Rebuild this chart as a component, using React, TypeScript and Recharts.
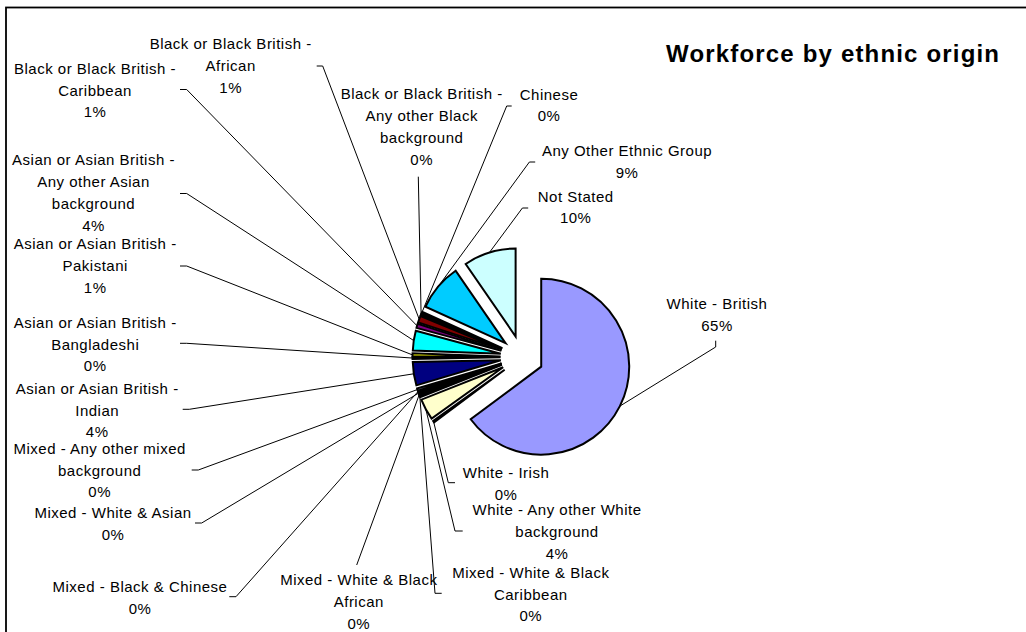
import React from 'react';
import { PieChart, Pie, Cell, Sector } from 'recharts';

// ---- data ----
const categories: string[] = [
  'White - British',
  'White - Irish',
  'White - Any other White background',
  'Mixed - White & Black Caribbean',
  'Mixed - White & Black African',
  'Mixed - White & Asian',
  'Mixed - Black & Chinese',
  'Mixed - Any other mixed background',
  'Asian or Asian British - Indian',
  'Asian or Asian British - Bangladeshi',
  'Asian or Asian British - Pakistani',
  'Asian or Asian British - Any other Asian background',
  'Black or Black British - Caribbean',
  'Black or Black British - African',
  'Black or Black British - Any other Black background',
  'Chinese',
  'Any Other Ethnic Group',
  'Not Stated',
];

const shares: number[] = [
  64.8, 0.3, 3.9, 0.3, 0.2, 0.3, 0.2, 0.4, 4.3, 0.3, 0.6, 3.6, 0.8, 1.2, 0.3, 0.3, 8.6, 9.6,
];

const sliceColors: string[] = [
  '#9999FF', '#993366', '#FFFFCC', '#CCFFFF', '#660066', '#FF8080', '#0066CC', '#CCCCFF',
  '#000080', '#FF00FF', '#FFFF00', '#00FFFF', '#800080', '#800000', '#008080', '#0000FF',
  '#00CCFF', '#CCFFFF',
];

// wrapped label text (percentage line is appended from the data)
const labelLines: string[][] = [
  ['White - British'],
  ['White - Irish'],
  ['White - Any other White', 'background'],
  ['Mixed - White & Black', 'Caribbean'],
  ['Mixed - White & Black', 'African'],
  ['Mixed - White & Asian'],
  ['Mixed - Black & Chinese'],
  ['Mixed - Any other mixed', 'background'],
  ['Asian or Asian British -', 'Indian'],
  ['Asian or Asian British -', 'Bangladeshi'],
  ['Asian or Asian British -', 'Pakistani'],
  ['Asian or Asian British -', 'Any other Asian', 'background'],
  ['Black or Black British -', 'Caribbean'],
  ['Black or Black British -', 'African'],
  ['Black or Black British -', 'Any other Black', 'background'],
  ['Chinese'],
  ['Any Other Ethnic Group'],
  ['Not Stated'],
];

const title = 'Workforce by ethnic origin';

// ---- layout (label placement, not data) ----
type Lay = { x: number; y: number; elbow: [number, number]; end: [number, number] };
const labelLayout: Lay[] = [
  { x: 717, y: 303, elbow: [715.7, 347], end: [715.7, 340.7] },
  { x: 506, y: 471.7, elbow: [448.3, 482.7], end: [455, 482.7] },
  { x: 557, y: 509.3, elbow: [455, 531], end: [462.7, 531] },
  { x: 530.8, y: 571.7, elbow: [435, 593.3], end: [441.7, 593.3] },
  { x: 358.8, y: 579.3, elbow: [356.7, 565], end: [356.7, 565] },
  { x: 113, y: 511.7, elbow: [201.7, 523], end: [195, 523] },
  { x: 140, y: 585.7, elbow: [236, 596.7], end: [229.3, 596.7] },
  { x: 99.7, y: 447.7, elbow: [198.3, 470], end: [191.7, 470] },
  { x: 97.2, y: 387.7, elbow: [189.3, 409.3], end: [182.7, 409.3] },
  { x: 95.2, y: 321.7, elbow: [186.7, 343.3], end: [180, 343.3] },
  { x: 95.2, y: 243.3, elbow: [186.7, 266], end: [180, 266] },
  { x: 93.5, y: 159.3, elbow: [186.7, 193.5], end: [180, 193.5] },
  { x: 95, y: 67.7, elbow: [186.7, 89.5], end: [180, 89.5] },
  { x: 230.7, y: 43.3, elbow: [322.7, 66], end: [316.7, 66] },
  { x: 421.7, y: 93.3, elbow: [418.3, 176.7], end: [418.3, 176.7] },
  { x: 549, y: 93.5, elbow: [506.7, 106], end: [511.7, 106] },
  { x: 627, y: 150, elbow: [529.4, 162], end: [535.2, 162] },
  { x: 575.7, y: 195.6, elbow: [522.4, 208], end: [528.2, 208] },
];

const data = categories.map((name, i) => ({ name, value: shares[i] }));

const RAD = Math.PI / 180;
const EXPLODE = 21.5;
const LINE_H = 21.8;
const FONT = "'Liberation Sans', Arial, sans-serif";

function explodedCenter(p: any) {
  const a = -p.midAngle * RAD;
  return { x: p.cx + EXPLODE * Math.cos(a), y: p.cy + EXPLODE * Math.sin(a) };
}

function renderSlice(p: any) {
  const c = explodedCenter(p);
  return (
    <Sector
      cx={c.x}
      cy={c.y}
      innerRadius={0}
      outerRadius={p.outerRadius}
      startAngle={p.startAngle}
      endAngle={p.endAngle}
      fill={sliceColors[p.index]}
      stroke="#000"
      strokeWidth={2}
    />
  );
}

function renderLabel(p: any) {
  const i = p.index;
  const lay = labelLayout[i];
  const c = explodedCenter(p);
  const a = -p.midAngle * RAD;
  const px = c.x + p.outerRadius * Math.cos(a);
  const py = c.y + p.outerRadius * Math.sin(a);
  const lines = [...labelLines[i], `${Math.round(p.percent * 100)}%`];
  return (
    <g>
      <polyline
        points={`${px},${py} ${lay.elbow[0]},${lay.elbow[1]} ${lay.end[0]},${lay.end[1]}`}
        fill="none"
        stroke="#000"
        strokeWidth={1}
      />
      <text
        textAnchor="middle"
        fontFamily={FONT}
        fontSize={15}
        letterSpacing={0.5}
        fill="#000"
        dominantBaseline="central"
      >
        {lines.map((l, k) => (
          <tspan key={k} x={lay.x} y={lay.y + k * LINE_H}>
            {l}
          </tspan>
        ))}
      </text>
    </g>
  );
}

export default function App() {
  return (
    <div style={{ position: 'absolute', left: 0, top: 0, width: 1026, height: 632, background: '#fff' }}>
      <PieChart width={1026} height={632} margin={{ top: 0, right: 0, bottom: 0, left: 0 }}>
        <Pie
          data={data}
          dataKey="value"
          nameKey="name"
          cx={522}
          cy={357}
          outerRadius={88}
          startAngle={90}
          endAngle={-270}
          isAnimationActive={false}
          label={renderSlice}
          labelLine={false}
        >
          {data.map((_, i) => (
            <Cell key={i} fill="none" stroke="none" />
          ))}
        </Pie>
        <Pie
          data={data}
          dataKey="value"
          nameKey="name"
          cx={522}
          cy={357}
          outerRadius={88}
          startAngle={90}
          endAngle={-270}
          isAnimationActive={false}
          label={renderLabel}
          labelLine={false}
        >
          {data.map((_, i) => (
            <Cell key={i} fill="none" stroke="none" />
          ))}
        </Pie>
      </PieChart>
      <svg
        width={1026}
        height={632}
        style={{ position: 'absolute', left: 0, top: 0, pointerEvents: 'none' }}
      >
        <rect x={6} y={7.5} width={1200} height={800} fill="none" stroke="#000" strokeWidth={1.8} />
        <text
          x={666}
          y={62}
          fontFamily={FONT}
          fontSize={24}
          fontWeight="bold"
          textLength={333}
          lengthAdjust="spacing"
          fill="#000"
        >
          {title}
        </text>
      </svg>
    </div>
  );
}
